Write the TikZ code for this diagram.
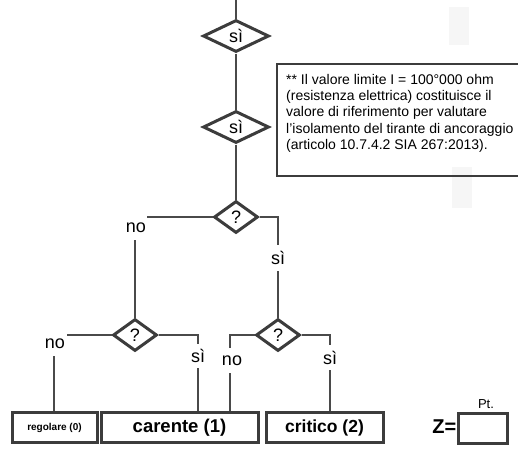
\documentclass[tikz,border=0pt]{standalone}
\usepackage{fontspec}
\setmainfont{Liberation Sans}
\usetikzlibrary{shapes.geometric}
\definecolor{dk}{HTML}{3C3C3C}
\definecolor{ln}{HTML}{4A4A4A}
\definecolor{ghost}{HTML}{F6F6F6}
\tikzset{
  dia/.style={diamond, draw=dk, line width=3pt, inner sep=0pt, font=\fontsize{18}{20}\selectfont},
  bigdia/.style={dia, minimum width=66pt, minimum height=32pt},
  smalldia/.style={dia, minimum width=44pt, minimum height=32pt},
  conn/.style={draw=ln, line width=1.3pt},
  lab/.style={inner sep=0pt, font=\fontsize{18}{20}\selectfont},
  resbox/.style={draw=dk, line width=3pt, minimum height=30pt, inner sep=0pt, font=\bfseries\fontsize{17.5}{19}\selectfont},
}
\begin{document}
\begin{tikzpicture}[x=1pt,y=-1pt]
\useasboundingbox (0,0) rectangle (518,451);
% faint background marks
\fill[ghost] (449,7) rectangle (469,45);
\fill[ghost] (452,167) rectangle (472,208);
\fill[ghost!50] (450,93) rectangle (463,117);
% note box
\draw[line width=1.4pt, draw=dk] (277,64) rectangle (530,176);
\node[anchor=north west, align=left, inner sep=0pt, font=\fontsize{14}{16.3}\selectfont] (note) at (286,74)
{** Il valore limite I = 100°000 ohm\\(resistenza elettrica) costituisce il\\valore di riferimento per valutare\\l’isolamento del tirante di ancoraggio\\(articolo 10.7.4.2 SIA 267:2013).};
% diamonds
\node[bigdia] (d1) at (236,36) {sì};
\node[bigdia] (d2) at (236,127) {sì};
\node[smalldia] (d3) at (236,217) {?};
\node[smalldia] (d4) at (135,335) {?};
\node[smalldia] (d5) at (278,335) {?};
% result boxes
\node[resbox, minimum width=85pt, font=\bfseries\fontsize{10}{12}\selectfont] (b0) at (54.5,427.5) {regolare (0)};
\node[resbox, minimum width=157pt, font=\bfseries\fontsize{18.5}{20}\selectfont] (b1) at (179.5,427.5) {carente (1)};
\node[resbox, minimum width=117pt] (b2) at (324.5,427.5) {critico (2)};
\node[resbox, minimum width=49pt] (bz) at (482.5,428.5) {};
\node[font=\bfseries\fontsize{20}{22}\selectfont, anchor=east, inner sep=0pt] (zl) at ([yshift=2pt]bz.west) {Z=};
\node[font=\fontsize{13}{14}\selectfont, inner sep=0pt] (pt) at (486,404) {Pt.};
% connectors
\coordinate (top) at (236,0);
\path[conn] (top) -- (d1.north);
\path[conn] (d1.south) -- (d2.north);
\path[conn] (d2.south) -- (d3.north);
% d3 left
\node[lab] (n3) at (136,228) {no};
\coordinate (n3a) at (147,217);
\coordinate (n3b) at (135,240);
\path[conn] (d3.west) -- (n3a);
\path[conn] (n3b) -- (d4.north);
% d3 right
\node[lab] (s3) at (278,258) {sì};
\coordinate (s3a) at (278,245);
\coordinate (s3b) at (278,271);
\path[conn] (d3.east) -| (s3a);
\path[conn] (s3b) -- (d5.north);
% d4 left
\node[lab] (n4) at (55,344) {no};
\coordinate (n4a) at (67,335);
\coordinate (n4b) at (54,356);
\path[conn] (d4.west) -- (n4a);
\path[conn] (n4b) -- (n4b |- b0.north);
% d4 right
\node[lab] (s4) at (198,356) {sì};
\coordinate (s4a) at (198,344);
\coordinate (s4b) at (198,368);
\path[conn] (d4.east) -| (s4a);
\path[conn] (s4b) -- (s4b |- b1.north);
% d5 left
\node[lab] (n5) at (232,361) {no};
\coordinate (n5a) at (230,348);
\coordinate (n5b) at (230,373);
\path[conn] (d5.west) -| (n5a);
\path[conn] (n5b) -- (n5b |- b1.north);
% d5 right
\node[lab] (s5) at (330,358) {sì};
\coordinate (s5a) at (330,345);
\coordinate (s5b) at (330,370);
\path[conn] (d5.east) -| (s5a);
\path[conn] (s5b) -- (s5b |- b2.north);
\end{tikzpicture}
\end{document}
